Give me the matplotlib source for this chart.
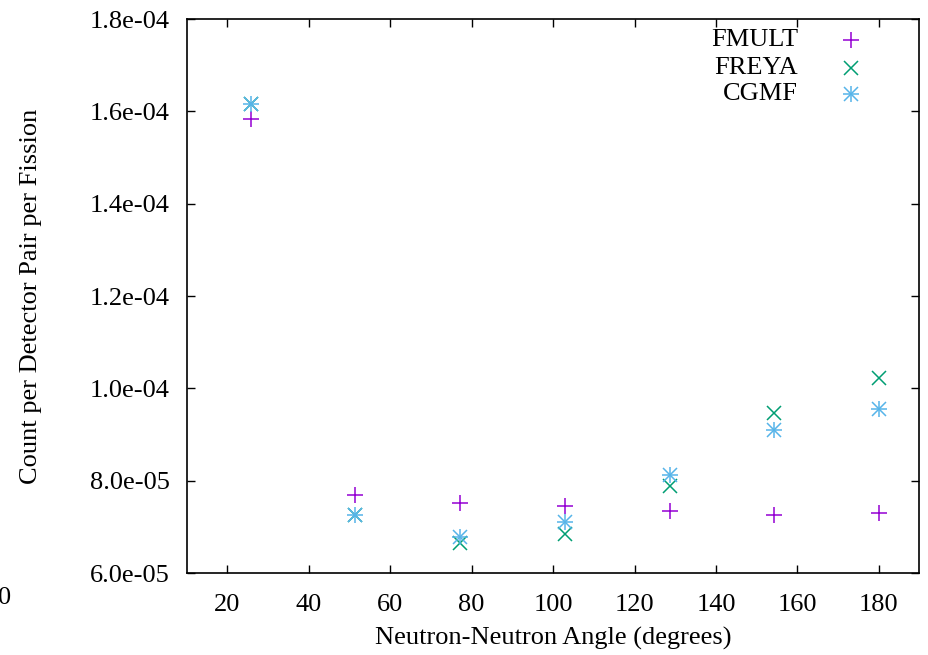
import matplotlib
matplotlib.use("Agg")
import matplotlib.pyplot as plt
import numpy as np

plt.rcParams['font.family'] = ['Liberation Serif', 'DejaVu Serif']

angles = [25.7, 51.4, 77.1, 102.9, 128.6, 154.3, 180.0]
fmult = [1.583e-4, 7.68e-5, 7.52e-5, 7.46e-5, 7.34e-5, 7.25e-5, 7.30e-5]
freya = [1.616e-4, 7.26e-5, 6.65e-5, 6.85e-5, 7.89e-5, 9.47e-5, 1.022e-4]
cgmf = [1.616e-4, 7.26e-5, 6.78e-5, 7.10e-5, 8.12e-5, 9.10e-5, 9.55e-5]

labels = ["FMULT", "FREYA", "CGMF"]
colors = ["#9400D3", "#009E73", "#56B4E9"]

xticks = [20, 40, 60, 80, 100, 120, 140, 160, 180]
yticks = [6.0e-5, 8.0e-5, 1.0e-4, 1.2e-4, 1.4e-4, 1.6e-4, 1.8e-4]

FS = 19

fig = plt.figure(figsize=(9.29, 6.55), dpi=100)
ax = fig.add_axes([186.7/929, 1-573/655, (919.5-186.7)/929, (573-19)/655])

ms = 12
mew = 1.1
ax.plot(angles, fmult, linestyle='none', marker='+', ms=ms, mew=mew, color=colors[0])
ax.plot(angles, freya, linestyle='none', marker='x', ms=ms*0.85, mew=mew, color=colors[1])
ax.plot(angles, cgmf, linestyle='none', marker='+', ms=ms, mew=mew, color=colors[2])
ax.plot(angles, cgmf, linestyle='none', marker='x', ms=ms*0.85, mew=mew, color=colors[2])

ax.set_xlim(10, 190)
ax.set_ylim(6.0e-5, 1.8e-4)
ax.set_xticks(xticks)
ax.set_yticks(yticks)
ax.set_yticklabels(['%.1e' % v for v in yticks])
ax.tick_params(direction='in', length=6, width=1, top=True, right=True,
               labelsize=FS)
ax.tick_params(axis='x', pad=15)
ax.tick_params(axis='y', pad=12)
for s in ax.spines.values():
    s.set_linewidth(1.2)

ax.set_xlabel("Neutron-Neutron Angle (degrees)", fontsize=FS)
ax.set_ylabel("Count per Detector Pair per Fission", fontsize=FS)
ax.xaxis.set_label_coords((553-186.7)/732.8, (573-638)/554)
ax.yaxis.set_label_coords((31-186.7)/732.8, 0.5)
ax.xaxis.label.set_va('center')
ax.yaxis.label.set_va('center')

# legend (gnuplot style: right-aligned labels, marker to the right)
leg_y = [0.962, 0.912, 0.865]
mk = [('+',), ('x',), ('+', 'x')]
for i in range(3):
    ax.text(0.834, leg_y[i], labels[i], transform=ax.transAxes, ha='right',
            va='center', fontsize=FS)
    for m in mk[i]:
        ax.plot([0.9065], [leg_y[i]], transform=ax.transAxes, linestyle='none',
                marker=m, ms=ms if m == '+' else ms*0.85, mew=mew,
                color=colors[i], clip_on=False)

fig.text(-0.002, 1-598/655, "0", fontsize=FS, ha='left', va='center')

fig.savefig("out.png", dpi=100)
